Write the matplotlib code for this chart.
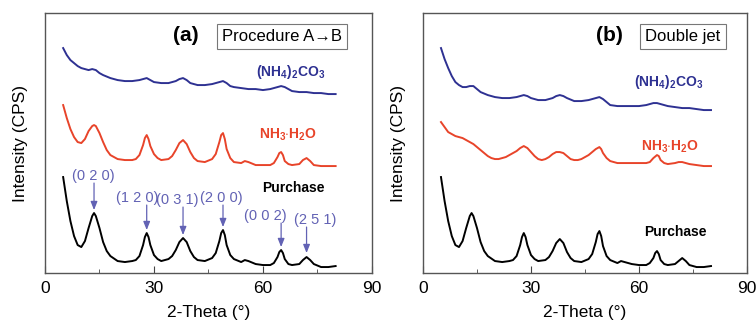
import matplotlib
matplotlib.use("Agg")
import matplotlib.pyplot as plt
from matplotlib.ticker import MultipleLocator

plt.rcParams['font.family'] = ['Liberation Sans', 'DejaVu Sans']
plt.rcParams['mathtext.fontset'] = 'custom'
plt.rcParams['mathtext.bf'] = 'Liberation Sans:bold'
plt.rcParams['mathtext.rm'] = 'Liberation Sans'
plt.rcParams['mathtext.default'] = 'bf'

# ---- data (2-theta in degrees, intensity in arbitrary units) ----
# panel (a)
a_purchase_x = [5, 6, 7, 8, 9, 10, 11, 12, 13, 13.5, 14, 15, 16, 17, 18, 20, 22, 24, 25, 26, 27, 27.5, 28, 28.5,
                29, 30, 31, 32, 34, 35, 36, 37, 38, 39, 40, 41, 42, 44, 46, 47, 48, 48.5, 49, 49.5, 50, 51, 52,
                54, 55, 56, 58, 60, 62, 63, 64, 64.5, 65, 65.5, 66, 67, 68, 70, 71, 72, 73, 74, 76, 78, 80]
a_purchase_y = [96, 72, 52, 37, 28, 26, 32, 45, 57, 60, 57, 45, 31, 22, 17, 12, 11, 12, 13, 17, 28, 36, 40, 36,
                28, 18, 14, 12, 14, 17, 23, 31, 35, 31, 22, 16, 13, 12, 15, 20, 32, 40, 43, 38, 28, 18, 14,
                11, 13, 12, 9, 8, 8, 10, 16, 21, 23, 20, 14, 9, 8, 9, 13, 16, 13, 9, 6, 6, 7]
a_nh3_y = [168, 155, 144, 136, 131, 130, 134, 142, 147, 148, 147, 140, 131, 123, 118, 114, 113, 113, 114, 118, 128,
           135, 138, 134, 127, 119, 115, 113, 114, 117, 123, 130, 133, 129, 121, 115, 112, 111, 114, 119, 131, 138,
           140, 134, 124, 115, 111, 110, 112, 111, 108, 108, 108, 110, 116, 120, 121, 118, 112, 109, 108, 109, 113,
           115, 112, 108, 107, 107, 107]
a_co3_x = [5, 6, 7, 8, 9, 10, 11, 12, 13, 14, 15, 16, 18, 20, 22, 24, 26, 27, 28, 29, 30, 32, 34, 36, 37, 38, 39,
           40, 42, 44, 46, 48, 49, 50, 51, 52, 54, 56, 58, 60, 62, 64, 65, 66, 67, 68, 70, 72, 74, 76, 78, 80]
a_co3_y = [225, 218, 213, 210, 207, 205, 204, 203, 204, 203, 200, 198, 195, 193, 192, 192, 193, 194, 195, 193, 191,
           190, 190, 192, 194, 195, 193, 190, 188, 188, 189, 191, 192, 190, 187, 186, 185, 184, 184, 183, 184, 186,
           187, 186, 184, 182, 181, 181, 180, 180, 179, 179]

# panel (b)
b_purchase_y = [96, 72, 52, 37, 28, 26, 32, 45, 57, 60, 57, 45, 31, 22, 17, 12, 11, 12, 13, 17, 28, 36, 40, 36,
                28, 18, 14, 12, 13, 16, 22, 30, 34, 30, 21, 15, 12, 11, 14, 19, 31, 39, 42, 37, 27, 17, 13,
                10, 12, 11, 9, 8, 8, 10, 15, 20, 22, 19, 13, 9, 8, 9, 12, 15, 12, 8, 6, 6, 7]
b_nh3_x = [5, 6, 7, 8, 9, 10, 11, 12, 13, 14, 15, 16, 17, 18, 19, 20, 21, 22, 23, 24, 25, 26, 27, 28, 29, 30, 31,
           32, 33, 34, 35, 36, 37, 38, 39, 40, 41, 42, 43, 44, 45, 46, 47, 48, 49, 49.5, 50, 51, 52, 53, 54, 56,
           58, 60, 62, 63, 64, 65, 65.5, 66, 67, 68, 70, 71, 72, 73, 74, 76, 78, 80]
b_nh3_y = [151, 146, 141, 139, 137, 136, 135, 133, 131, 129, 126, 123, 120, 117, 115, 114, 114, 115, 116, 118, 120,
           122, 125, 127, 125, 121, 117, 114, 113, 114, 116, 119, 121, 121, 120, 117, 114, 113, 113, 114, 116, 118,
           121, 124, 126, 124, 120, 115, 112, 111, 110, 110, 110, 110, 110, 111, 115, 118, 117, 113, 110, 109, 110,
           111, 111, 110, 109, 108, 107, 107]
b_co3_y = [225, 214, 205, 197, 191, 188, 186, 186, 187, 187, 184, 181, 178, 176, 175, 175, 176, 177, 178, 177, 175,
           173, 173, 175, 177, 178, 177, 175, 172, 172, 173, 175, 176, 174, 171, 168, 167, 167, 167, 167, 168, 170,
           170, 169, 168, 167, 166, 165, 165, 164, 163, 163]

hkl_labels = ['(0 2 0)', '(1 2 0)', '(0 3 1)', '(2 0 0)', '(0 0 2)', '(2 5 1)']
hkl_peaks = [13.5, 28, 38, 49, 65, 72]
hkl_arrow_top = [90, 68, 66, 68, 50, 46]
hkl_arrow_tip = [63, 43, 38, 46, 26, 20]
hkl_text_x = [13.2, 25.3, 36.3, 48.4, 60.6, 74.5]

blue = '#2e3192'
red = '#e8442a'
hkl_col = '#6262b4'

fig = plt.figure(figsize=(7.56, 3.27), dpi=100)
ax_a = fig.add_axes([0.0595, 0.165, 0.4325, 0.795])
ax_b = fig.add_axes([0.5595, 0.165, 0.4286, 0.795])

ax_a.plot(a_purchase_x, a_purchase_y, color='black', lw=1.4)
ax_a.plot(a_purchase_x, a_nh3_y, color=red, lw=1.4)
ax_a.plot(a_co3_x, a_co3_y, color=blue, lw=1.4)

ax_b.plot(a_purchase_x, b_purchase_y, color='black', lw=1.4)
ax_b.plot(b_nh3_x, b_nh3_y, color=red, lw=1.4)
ax_b.plot(a_co3_x, b_co3_y, color=blue, lw=1.4)

for ax in (ax_a, ax_b):
    ax.set_xlim(0, 90)
    ax.set_ylim(0, 260)
    ax.set_yticks([])
    ax.xaxis.set_major_locator(MultipleLocator(30))
    ax.xaxis.set_minor_locator(MultipleLocator(15))
    ax.tick_params(axis='x', which='major', direction='in', length=5, labelsize=12.5, pad=6, color='#444444')
    ax.tick_params(axis='x', which='minor', direction='in', length=3, color='#444444')
    for sp in ax.spines.values():
        sp.set_color('#555555')
        sp.set_linewidth(1.0)
    ax.set_xlabel('2-Theta (\u00b0)', fontsize=12.5, labelpad=6)
    ax.set_ylabel('Intensity (CPS)', fontsize=12.5, labelpad=12)

# panel titles
ax_a.text(38.8, 238, '(a)', fontsize=15, fontweight='bold', ha='center', va='center')
ax_a.text(65.2, 237, 'Procedure A\u2192B', fontsize=12, ha='center', va='center',
          bbox=dict(boxstyle='square,pad=0.3', fc='white', ec='#777777', lw=0.8))
ax_b.text(51.7, 238, '(b)', fontsize=15, fontweight='bold', ha='center', va='center')
ax_b.text(72.2, 237, 'Double jet', fontsize=12, ha='center', va='center',
          bbox=dict(boxstyle='square,pad=0.3', fc='white', ec='#777777', lw=0.8))

# curve labels
ax_a.text(67.7, 201, r'(NH$_4$)$_2$CO$_3$', color=blue, fontsize=10, fontweight='bold', ha='center', va='center')
ax_a.text(66.9, 138, r'NH$_3$$\cdot$H$_2$O', color=red, fontsize=10, fontweight='bold', ha='center', va='center')
ax_a.text(68.3, 85, 'Purchase', color='black', fontsize=10, fontweight='bold', ha='center', va='center')
ax_b.text(68.1, 191, r'(NH$_4$)$_2$CO$_3$', color=blue, fontsize=10, fontweight='bold', ha='center', va='center')
ax_b.text(68.6, 126, r'NH$_3$$\cdot$H$_2$O', color=red, fontsize=10, fontweight='bold', ha='center', va='center')
ax_b.text(70.0, 41, 'Purchase', color='black', fontsize=10, fontweight='bold', ha='center', va='center')

# Miller indices with arrows
for lab, px, top, tip, tx in zip(hkl_labels, hkl_peaks, hkl_arrow_top, hkl_arrow_tip, hkl_text_x):
    ax_a.annotate('', xy=(px, tip), xytext=(px, top),
                  arrowprops=dict(arrowstyle='-|>,head_length=0.5,head_width=0.2', color=hkl_col, lw=0.9,
                                  shrinkA=0, shrinkB=0))
    ax_a.text(tx, top + 7, lab, color=hkl_col, fontsize=10.5, ha='center', va='center')

fig.savefig('out.png', dpi=100)
